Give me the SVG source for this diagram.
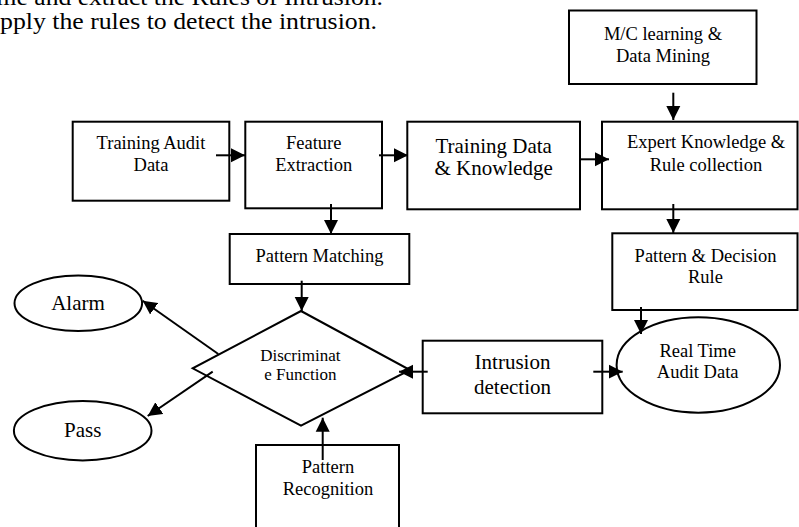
<svg xmlns="http://www.w3.org/2000/svg" width="799" height="527" viewBox="0 0 799 527">
<defs>
<style>
.box{fill:#fff;stroke:#000;stroke-width:2}
.t{font-family:"Liberation Serif","Times New Roman",serif;fill:#000;text-anchor:middle}
.s18{font-size:18.5px}
.s21{font-size:21px}
.s17{font-size:17px}
.top{font-family:"Liberation Serif","Times New Roman",serif;fill:#000;font-size:23px}
.c line{stroke:#000;stroke-width:2;fill:none;marker-end:url(#ah)}
</style>
<marker id="ah" markerUnits="userSpaceOnUse" markerWidth="15" markerHeight="15" refX="14" refY="7" orient="auto" viewBox="0 0 15 14">
<path d="M0,0 L14,7 L0,14 z" fill="#000"/>
</marker>
</defs>
<rect width="799" height="527" fill="#fff"/>
<text class="top" x="-12" y="5" textLength="395" lengthAdjust="spacingAndGlyphs">rme and extract the Rules of Intrusion.</text>
<text class="top" x="0" y="28.5" textLength="377" lengthAdjust="spacingAndGlyphs">pply the rules to detect the intrusion.</text>

<g id="mc">
<rect class="box" x="569" y="10.5" width="187.5" height="73.5"/>
<text class="t s18" x="663" y="39.5">M/C learning &amp;</text>
<text class="t s18" x="663" y="61.5">Data Mining</text>
</g>
<g id="tad">
<rect class="box" x="72.7" y="121.7" width="156.6" height="79"/>
<text class="t s18" x="151" y="149.3">Training Audit</text>
<text class="t s18" x="151" y="170.7">Data</text>
</g>
<g id="fe">
<rect class="box" x="245.3" y="121.7" width="136.7" height="86.6"/>
<text class="t s18" x="313.7" y="149.3">Feature</text>
<text class="t s18" x="313.7" y="170.7">Extraction</text>
</g>
<g id="tdk">
<rect class="box" x="407.3" y="121.7" width="172.7" height="87.6"/>
<text class="t s21" x="493.7" y="152.5">Training Data</text>
<text class="t s21" x="493.7" y="175">&amp; Knowledge</text>
</g>
<g id="ekr">
<rect class="box" x="602" y="121.7" width="195.5" height="87.6"/>
<text class="t s18" x="706" y="148.3">Expert Knowledge &amp;</text>
<text class="t s18" x="706" y="170.7">Rule collection</text>
</g>
<g id="pm">
<rect class="box" x="229.7" y="234" width="179.6" height="50"/>
<text class="t s18" x="319.5" y="262.3">Pattern Matching</text>
</g>
<g id="pdr">
<rect class="box" x="612.3" y="233.3" width="185.2" height="76.7"/>
<text class="t s18" x="705.5" y="261.7">Pattern &amp; Decision</text>
<text class="t s18" x="705.5" y="283.3">Rule</text>
</g>
<g id="alarm">
<ellipse class="box" cx="78.3" cy="303.3" rx="63.8" ry="27.8"/>
<text class="t s21" x="78" y="310">Alarm</text>
</g>
<g id="pass">
<ellipse class="box" cx="82.7" cy="430.7" rx="68.8" ry="29.7"/>
<text class="t s21" x="82.7" y="436.7">Pass</text>
</g>
<g id="df">
<polygon class="box" points="301,311 410,370 301,425.7 192.7,368.3"/>
<text class="t s17" x="300.3" y="361">Discriminat</text>
<text class="t s17" x="300.3" y="380.3">e Function</text>
</g>
<g id="id">
<rect class="box" x="422.7" y="340.7" width="179.6" height="72.6"/>
<text class="t s21" x="512.5" y="369.3">Intrusion</text>
<text class="t s21" x="512.5" y="394.3">detection</text>
</g>
<g id="rtad">
<ellipse class="box" cx="698.3" cy="365" rx="81.7" ry="47.7"/>
<text class="t s18" x="697.7" y="356.7">Real Time</text>
<text class="t s18" x="697.7" y="377.7">Audit Data</text>
</g>
<g id="pr">
<rect class="box" x="256" y="445" width="143" height="100"/>
<text class="t s18" x="328" y="473.3">Pattern</text>
<text class="t s18" x="328" y="495">Recognition</text>
</g>

<g id="connectors" class="c">
<line x1="216" y1="155.3" x2="245" y2="155.3"/>
<line x1="379" y1="155.3" x2="408" y2="155.3"/>
<line x1="580" y1="159.3" x2="609" y2="159.3"/>
<line x1="673.3" y1="92.7" x2="673.3" y2="120"/>
<line x1="673.3" y1="204" x2="673.3" y2="233"/>
<line x1="331" y1="204" x2="331" y2="234"/>
<line x1="301.7" y1="280.7" x2="301.7" y2="311"/>
<line x1="218.3" y1="354" x2="142.7" y2="300.7"/>
<line x1="212.7" y1="371.7" x2="147.7" y2="416"/>
<line x1="322.7" y1="460" x2="322.7" y2="417.7"/>
<line x1="427.7" y1="371.7" x2="399" y2="371.7"/>
<line x1="593.3" y1="371.7" x2="622.7" y2="371.7"/>
<line x1="641" y1="307" x2="641" y2="334"/>
</g>
</svg>
